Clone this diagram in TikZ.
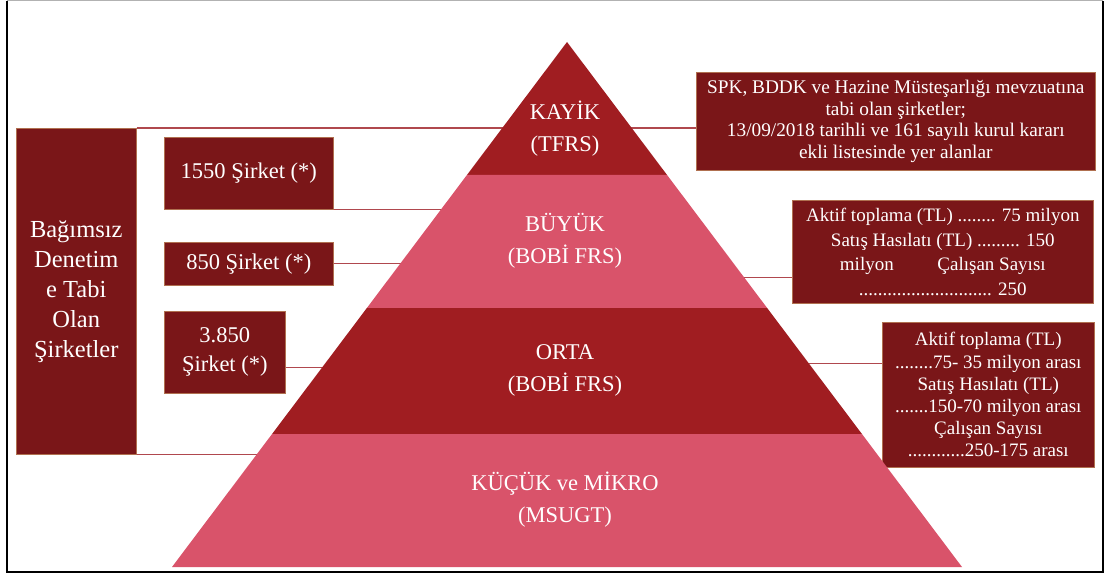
\documentclass[tikz,border=0pt]{standalone}
\usepackage{fontspec}
\setmainfont{Liberation Serif}
\usetikzlibrary{calc}
\definecolor{pyrdark}{HTML}{A01D21}
\definecolor{pyrpink}{HTML}{D9536A}
\definecolor{boxred}{HTML}{7A1618}
\definecolor{boxedge}{HTML}{B07050}
\definecolor{linkred}{HTML}{B0484E}

\begin{document}
\begin{tikzpicture}[x=1pt,y=-1pt,
firmbox/.style = {
  fill=boxred, draw=boxedge, line width=0.6pt, text=white, align=center,
  anchor=north west, inner sep=2pt, font=\fontsize{19.3}{21.5}\selectfont
},
bandlabel/.style = {
  text=white, align=center, font=\fontsize{22.5}{32}\selectfont
},
link/.style = {draw=linkred, line width=1.3pt}
]
\useasboundingbox (0,0) rectangle (1105,577);

% frame
\coordinate (ftl) at (7,1);
\coordinate (fbr) at (1103,572);
\draw[gray!60, line width=1pt] (ftl) -- (fbr |- ftl);
\draw[line width=1.6pt] (ftl) -- (ftl |- fbr) -- (fbr) -- (fbr |- ftl);

\coordinate (apex) at (567,42);
\coordinate (bl) at (172,567);
\coordinate (br) at (962,567);

% boxes
\node [firmbox, minimum width=120, minimum height=326,
  font=\fontsize{24.5}{30}\selectfont] (denetim) at (16,128)
  {Bağımsız\\Denetim\\e Tabi\\Olan\\Şirketler};
\node [firmbox, minimum width=169, minimum height=72,
  font=\fontsize{22.5}{25}\selectfont] (c1550) at (164,137) {1550 Şirket (*)};
\node [firmbox, minimum width=169, minimum height=43,
  font=\fontsize{22.5}{25}\selectfont] (c850) at (164,242) {850 Şirket (*)};
\node [firmbox, minimum width=121, minimum height=82,
  font=\fontsize{22.5}{29}\selectfont] (c3850) at (164,311) {3.850\\Şirket (*)};

\node [firmbox, minimum width=399, minimum height=98] (spk) at (696,72)
  {SPK, BDDK ve Hazine Müsteşarlığı mevzuatına\\tabi olan şirketler;\\
   13/09/2018 tarihli  ve 161 sayılı kurul kararı\\ekli listesinde yer alanlar};
\node [firmbox, minimum width=301, minimum height=103,
  font=\fontsize{19}{24.5}\selectfont] (aktifa) at (792,200)
  {Aktif toplama (TL) ........ 75 milyon\\Satış Hasılatı (TL) ......... 150\\
   milyon\hspace{2.3em}Çalışan Sayısı\\............................ 250};
\node [firmbox, minimum width=212, minimum height=145,
  font=\fontsize{19}{22.2}\selectfont] (aktifb) at (882,322)
  {Aktif toplama (TL)\\........75- 35 milyon arası\\Satış Hasılatı (TL)\\
   .......150-70 milyon arası\\Çalışan Sayısı\\............250-175 arası};

% connectors, run under the pyramid
\coordinate (l3850) at ([yshift=-15pt]c3850.east);
\coordinate (ra) at ([yshift=-25.5pt]aktifa.west);
\coordinate (rb) at ([yshift=31pt]aktifb.west);
\draw [link] (denetim.north east) -- (denetim.north east -| spk.west);
\draw [link] (denetim.south east) -- (denetim.south east -| apex);
\draw [link] (c1550.south east) -- (c1550.south east -| apex);
\draw [link] (c850.east) -- (c850.east -| apex);
\draw [link] (l3850) -- (l3850 -| apex);
\draw [link] (ra -| apex) -- (ra);
\draw [link] (rb -| apex) -- (rb);

% pyramid
\foreach \ta/\tb/\col in {0/0.253/pyrdark, 0.253/0.507/pyrpink,
    0.507/0.747/pyrdark, 0.747/1/pyrpink}
  \fill [\col] ($(apex)!\ta!(bl)$) -- ($(apex)!\tb!(bl)$)
    -- ($(apex)!\tb!(br)$) -- ($(apex)!\ta!(br)$) -- cycle;

\node [bandlabel] (kayik) at (565,129) {KAYİK\\(TFRS)};
\node [bandlabel] (buyuk) at (565,241) {BÜYÜK\\(BOBİ FRS)};
\node [bandlabel] (orta) at (565,370) {ORTA\\(BOBİ FRS)};
\node [bandlabel] (kucuk) at (565,500) {KÜÇÜK ve MİKRO\\(MSUGT)};
\end{tikzpicture}
\end{document}
